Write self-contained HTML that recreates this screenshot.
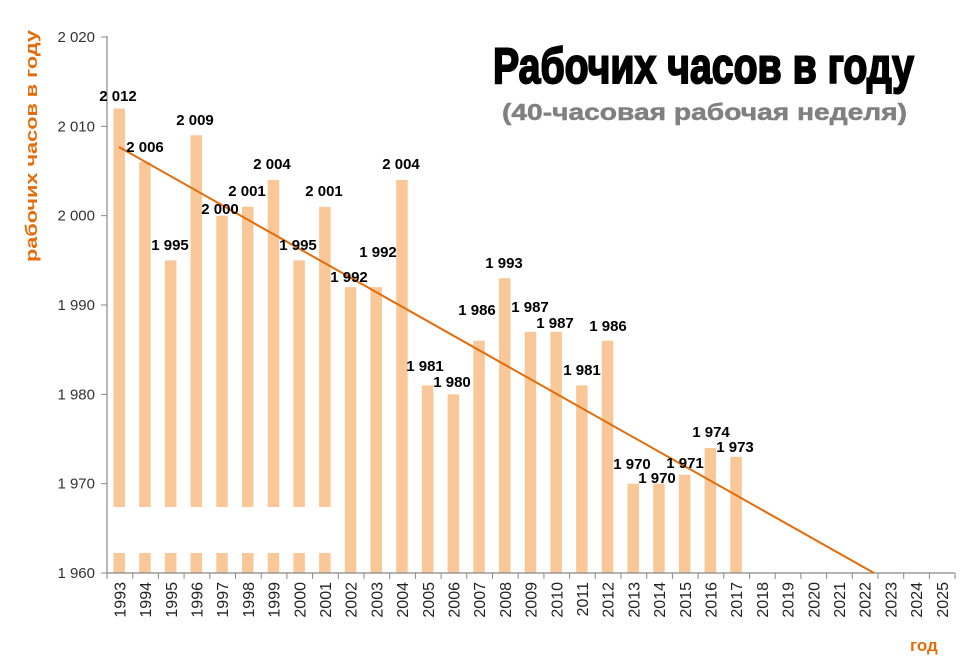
<!DOCTYPE html>
<html><head><meta charset="utf-8"><style>
html,body{margin:0;padding:0;background:#fff;}
svg{display:block;}
</style></head><body>
<svg id="c" width="960" height="663" xmlns="http://www.w3.org/2000/svg" font-family="Liberation Sans, DejaVu Sans, sans-serif">
<rect width="960" height="663" fill="#fff"/>
<g id="bars"></g>
<rect x="108" y="507" width="230" height="46" fill="#fff"/>
<line x1="107" y1="36" x2="107" y2="573" stroke="#888" stroke-width="1.2"/>
<line x1="107" y1="573" x2="955" y2="573" stroke="#888" stroke-width="1.2"/>
<g id="ticks"></g>
<line x1="119" y1="147" x2="874" y2="573" stroke="#E46C0A" stroke-width="2"/>
<g id="labels" font-weight="bold" font-size="15" fill="#000" text-anchor="middle"></g>
<text x="493" y="83" textLength="421" lengthAdjust="spacingAndGlyphs" font-size="50" font-weight="bold" fill="#000" stroke="#000" stroke-width="2">Рабочих часов в году</text>
<text x="502" y="120" textLength="405" lengthAdjust="spacingAndGlyphs" font-size="23" font-weight="bold" fill="#808080" stroke="#808080" stroke-width="0.5">(40-часовая рабочая неделя)</text>
<text transform="translate(37,262) rotate(-90)" textLength="232" lengthAdjust="spacingAndGlyphs" font-size="17" font-weight="bold" fill="#E46C0A">рабочих часов в году</text>
<text x="910" y="651" font-size="17" font-weight="bold" fill="#E46C0A">год</text>
</svg>
<script>
var NS="http://www.w3.org/2000/svg";
function el(t,a,txt){var e=document.createElementNS(NS,t);for(var k in a)e.setAttribute(k,a[k]);if(txt!=null)e.textContent=txt;return e;}
var vals=[2012,2006,1995,2009,2000,2001,2004,1995,2001,1992,1992,2004,1981,1980,1986,1993,1987,1987,1981,1986,1970,1970,1971,1974,1973];
var lp=[[118,96],[145,147],[170,245],[195,120],[220,209],[247,191],[272,164],[298,245],[324,191],[349,277],[378,252],[401,164],[425,366],[452,382],[477,310],[504,263],[530,307],[555,323],[582,370],[608,326],[632,464],[657,478],[685,463],[711,432],[735,447]];
var W=25.7,X0=107,Y=function(v){return 573-(v-1960)*536/60;};
var bars=document.getElementById('bars'),ticks=document.getElementById('ticks'),labels=document.getElementById('labels');
vals.forEach(function(v,i){var x=X0+i*W+6.5;bars.appendChild(el('rect',{x:x,y:Y(v),width:11.5,height:573-Y(v),fill:'#FAC898'}));
labels.appendChild(el('text',{x:lp[i][0],y:lp[i][1]+5},String(v).replace(/^(\d)/,'$1 ')));});
for(var i=0;i<=33;i++){var x=X0+i*W;ticks.appendChild(el('line',{x1:x,y1:573,x2:x,y2:579,stroke:'#888','stroke-width':1}));}
for(var i=0;i<33;i++){var cx=X0+i*W+W/2+5.5;ticks.appendChild(el('text',{transform:'translate('+cx+',582) rotate(-90)','text-anchor':'end','font-size':'16',fill:'#222'},String(1993+i)));}
for(var v=1960;v<=2020;v+=10){var y=Y(v);ticks.appendChild(el('line',{x1:101,y1:y,x2:107,y2:y,stroke:'#888','stroke-width':1}));
ticks.appendChild(el('text',{x:95,y:y+5,'text-anchor':'end','font-size':'15',fill:'#333'},String(v).replace(/^(\d)/,'$1 ')));}
</script>
</body></html>
